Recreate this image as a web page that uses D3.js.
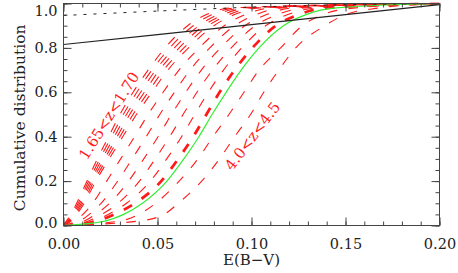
<!DOCTYPE html>
<html>
<head>
  <meta charset="utf-8">
  <script src="https://d3js.org/d3.v7.min.js"></script>
  <style>
    body { margin: 0; background: #fff; }
    svg text { font-family: "DejaVu Serif", serif; }
  </style>
</head>
<body>
  <svg id="chart" width="458" height="273" viewBox="0 0 458 273" xmlns="http://www.w3.org/2000/svg"></svg>
  <script>
    // cumulative fraction levels, and E(B-V) reached at each level for every redshift bin
    var levels = [0, 0.02, 0.05, 0.1, 0.2, 0.3, 0.4, 0.5, 0.6, 0.7, 0.8, 0.9, 0.95, 0.98, 1.0];

    var binLow1 = [0, 0.0015, 0.004, 0.007, 0.0125, 0.018, 0.024, 0.030, 0.037, 0.045, 0.054, 0.066, 0.076, 0.089, 0.2];
    var binLow2 = [0, 0.002, 0.0045, 0.0078, 0.0134, 0.0193, 0.0255, 0.0318, 0.039, 0.047, 0.0565, 0.069, 0.079, 0.092, 0.2];
    var binLow3 = [0, 0.0025, 0.005, 0.0086, 0.0143, 0.0205, 0.027, 0.0335, 0.041, 0.049, 0.059, 0.072, 0.082, 0.095, 0.2];
    var binLow4 = [0, 0.003, 0.0057, 0.0094, 0.0152, 0.0218, 0.0285, 0.0352, 0.043, 0.051, 0.0615, 0.0745, 0.085, 0.098, 0.2];
    var binLow5 = [0, 0.0035, 0.0063, 0.0102, 0.0162, 0.023, 0.030, 0.037, 0.045, 0.0532, 0.064, 0.077, 0.088, 0.101, 0.2];
    var binLow6 = [0, 0.004, 0.007, 0.011, 0.0172, 0.0243, 0.0315, 0.0388, 0.047, 0.0555, 0.0665, 0.080, 0.091, 0.104, 0.2];
    var binMid1 = [0, 0.0063, 0.0103, 0.0155, 0.023, 0.0304, 0.0378, 0.045, 0.053, 0.0614, 0.0722, 0.0855, 0.0967, 0.110, 0.2];
    var binMid2 = [0, 0.0087, 0.0137, 0.020, 0.0288, 0.0365, 0.044, 0.0512, 0.059, 0.0673, 0.0778, 0.091, 0.1023, 0.116, 0.2];
    var binMid3 = [0, 0.011, 0.017, 0.0245, 0.0346, 0.0427, 0.0503, 0.0574, 0.065, 0.0733, 0.0835, 0.0965, 0.108, 0.122, 0.2];
    var binMid4 = [0, 0.0133, 0.0203, 0.029, 0.0404, 0.0488, 0.0565, 0.0636, 0.071, 0.0792, 0.0892, 0.102, 0.1137, 0.128, 0.2];
    var binMid5 = [0, 0.0157, 0.0237, 0.0335, 0.0462, 0.0549, 0.0628, 0.0698, 0.077, 0.0851, 0.0948, 0.1075, 0.1193, 0.134, 0.2];
    var binHigh1 = [0, 0.030, 0.040, 0.049, 0.0615, 0.0715, 0.0795, 0.088, 0.096, 0.104, 0.1155, 0.127, 0.138, 0.155, 0.2];
    var binHigh2 = [0, 0.040, 0.0535, 0.061, 0.0735, 0.083, 0.091, 0.0995, 0.1065, 0.1145, 0.1235, 0.139, 0.150, 0.168, 0.2];

    var thinBins = [binLow1, binLow2, binLow3, binLow4, binLow5, binLow6,
                    binMid1, binMid2, binMid3, binMid4, binMid5, binHigh1, binHigh2];

    // all bins together (thick dashed) and the model (green)
    var allBins = [0, 0.018, 0.027, 0.038, 0.052, 0.061, 0.069, 0.076, 0.083, 0.091, 0.1005, 0.113, 0.125, 0.140, 0.2];
    var model = [0, 0.022, 0.032, 0.042, 0.055, 0.064, 0.072, 0.079, 0.0865, 0.0945, 0.104, 0.117, 0.129, 0.145, 0.2];

    // black reference lines
    var refX = [0, 0.05, 0.10, 0.15, 0.20];
    var refSolid = [0.815, 0.86, 0.905, 0.95, 0.995];
    var refDotted = [0.946, 0.966, 0.984, 0.995, 1.0];

    var binLabels = [
      { text: "1.65<z<1.70", ebv: 0.0242, frac: 0.495, angle: -58 },
      { text: "4.0<z<4.5", ebv: 0.1005, frac: 0.403, angle: -53 }
    ];

    var xTicks = [0, 0.05, 0.10, 0.15, 0.20];
    var yTicks = [0, 0.2, 0.4, 0.6, 0.8, 1.0];

    var svg = d3.select("#chart");
    var x = d3.scaleLinear().domain([0, 0.2]).range([63.5, 439.5]);
    var y = d3.scaleLinear().domain([0, 1]).range([225.5, 3.5]);

    function pairs(ebv) {
      return ebv.map(function(e, i) { return [e, levels[i]]; });
    }

    var line = d3.line()
      .x(function(d) { return x(d[0]); })
      .y(function(d) { return y(d[1]); })
      .curve(d3.curveMonotoneX);

    svg.append("clipPath").attr("id", "plotclip")
      .append("rect")
      .attr("x", x(0)).attr("y", y(1) - 1)
      .attr("width", x(0.2) - x(0)).attr("height", y(0) - y(1) + 1);

    var plot = svg.append("g").attr("clip-path", "url(#plotclip)");

    plot.selectAll("path.bin")
      .data(thinBins)
      .enter().append("path")
      .attr("class", "bin")
      .attr("d", function(d) { return line(pairs(d)); })
      .attr("fill", "none")
      .attr("stroke", "#ff1a1a")
      .attr("stroke-width", 1.1)
      .attr("stroke-dasharray", "9.5,11.5");

    plot.append("path")
      .attr("d", line(pairs(allBins)))
      .attr("fill", "none")
      .attr("stroke", "#ff1a1a")
      .attr("stroke-width", 2.8)
      .attr("stroke-dasharray", "9.5,11.5");

    plot.append("path")
      .attr("d", line(pairs(model)))
      .attr("fill", "none")
      .attr("stroke", "#33ee33")
      .attr("stroke-width", 1.2);

    var refLine = d3.line()
      .x(function(d) { return x(d[0]); })
      .y(function(d) { return y(d[1]); });

    plot.append("path")
      .attr("d", refLine(refX.map(function(v, i) { return [v, refSolid[i]]; })))
      .attr("fill", "none")
      .attr("stroke", "#222")
      .attr("stroke-width", 1.1);

    plot.append("path")
      .attr("d", refLine(refX.map(function(v, i) { return [v, refDotted[i]]; })))
      .attr("fill", "none")
      .attr("stroke", "#222")
      .attr("stroke-width", 1)
      .attr("stroke-dasharray", "3,7");

    // axes, ticks point inwards
    function addAxis(axis, tx, ty, labels) {
      var g = svg.append("g").attr("transform", "translate(" + tx + "," + ty + ")").call(axis);
      g.select(".domain").remove();
      g.selectAll("line").attr("stroke", "#444");
      if (!labels) g.selectAll("text").remove();
      return g;
    }

    var xMinor = d3.range(0, 21).map(function(i) { return i / 100; });
    var yMinor = d3.range(0, 21).map(function(i) { return i / 20; });

    addAxis(d3.axisBottom(x).tickValues(xMinor).tickSize(-4).tickSizeOuter(0), 0, y(0), false);
    addAxis(d3.axisTop(x).tickValues(xMinor).tickSize(-4).tickSizeOuter(0), 0, y(1), false);
    addAxis(d3.axisLeft(y).tickValues(yMinor).tickSize(-4).tickSizeOuter(0), x(0), 0, false);
    addAxis(d3.axisRight(y).tickValues(yMinor).tickSize(-4).tickSizeOuter(0), x(0.2), 0, false);

    var gx = addAxis(d3.axisBottom(x).tickValues(xTicks).tickSize(-8).tickSizeOuter(0)
      .tickPadding(13).tickFormat(d3.format(".2f")), 0, y(0), true);
    addAxis(d3.axisTop(x).tickValues(xTicks).tickSize(-8).tickSizeOuter(0), 0, y(1), false);
    var gy = addAxis(d3.axisLeft(y).tickValues(yTicks).tickSize(-8).tickSizeOuter(0)
      .tickPadding(6).tickFormat(d3.format(".1f")), x(0), 0, true);
    addAxis(d3.axisRight(y).tickValues(yTicks).tickSize(-8).tickSizeOuter(0), x(0.2), 0, false);

    gx.selectAll("text").attr("font-family", "DejaVu Serif").attr("font-size", 14.5).attr("fill", "#222");
    gy.selectAll("text").attr("font-family", "DejaVu Serif").attr("font-size", 14.5).attr("fill", "#222")
      .attr("dy", function(d) { return d === 1 ? "0.8em" : d === 0 ? "0.12em" : "0.32em"; });

    svg.append("rect")
      .attr("x", x(0)).attr("y", y(1))
      .attr("width", x(0.2) - x(0)).attr("height", y(0) - y(1))
      .attr("fill", "none").attr("stroke", "#444").attr("stroke-width", 1);

    svg.append("text")
      .attr("x", x(0.1)).attr("y", 265)
      .attr("text-anchor", "middle")
      .attr("font-size", 15).attr("fill", "#222")
      .text("E(B\u2212V)");

    svg.append("text")
      .attr("transform", "translate(25," + y(0.485) + ") rotate(-90)")
      .attr("text-anchor", "middle")
      .attr("font-size", 15.5).attr("fill", "#222")
      .text("Cumulative distribution");

    svg.selectAll("text.binlabel")
      .data(binLabels)
      .enter().append("text")
      .attr("class", "binlabel")
      .attr("transform", function(d) {
        return "translate(" + x(d.ebv) + "," + y(d.frac) + ") rotate(" + d.angle + ")";
      })
      .attr("text-anchor", "middle")
      .attr("dy", "0.35em")
      .attr("font-size", 15)
      .attr("fill", "#ff1a1a")
      .text(function(d) { return d.text; });
  </script>
</body>
</html>
